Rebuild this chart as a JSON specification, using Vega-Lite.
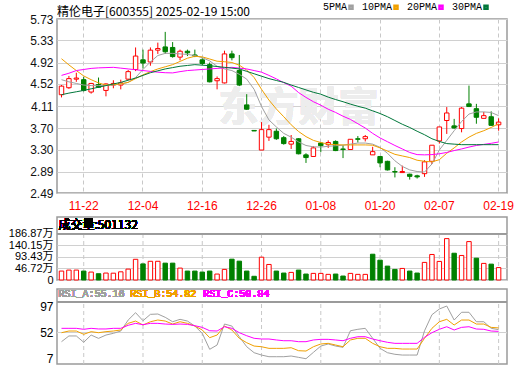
{
  "$schema": "https://vega.github.io/schema/vega-lite/v6.json",
  "background": "white",
  "padding": {"left": 0, "top": 2, "right": 0, "bottom": 0},
  "spacing": 2,
  "config": {
    "view": {"stroke": "#9a9a9a", "strokeWidth": 1.5},
    "font": "Liberation Sans",
    "axis": {"domain": false, "ticks": false, "tickSize": 0, "titlePadding": 0},
    "axisY": {"minExtent": 56, "maxExtent": 56, "labelPadding": 4, "labelFont": "Liberation Sans, Noto Sans CJK SC", "labelFontSize": 12, "labelColor": "#111111"}
  },
  "datasets": {
    "k": [
      {"d":"2024-11-19","o":4.32,"h":4.50,"l":4.27,"c":4.48,"v":36,"vu":1,"ma5":4.60,"ma10":4.99,"ma20":4.68,"ma30":4.32,"ra":36,"rb":51.7,"rc":59.3},
      {"d":"2024-11-20","o":4.45,"h":4.67,"l":4.43,"c":4.62,"v":40,"vu":1,"ma5":4.56,"ma10":4.875,"ma20":4.72,"ma30":4.35,"ra":46,"rb":54.6,"rc":59.3},
      {"d":"2024-11-21","o":4.61,"h":4.73,"l":4.56,"c":4.63,"v":40,"vu":1,"ma5":4.53,"ma10":4.77,"ma20":4.77,"ma30":4.375,"ra":46,"rb":54.6,"rc":59.3},
      {"d":"2024-11-22","o":4.60,"h":4.65,"l":4.38,"c":4.40,"v":36,"vu":0,"ma5":4.50,"ma10":4.67,"ma20":4.79,"ma30":4.40,"ra":35,"rb":48.9,"rc":57.6},
      {"d":"2024-11-25","o":4.37,"h":4.54,"l":4.34,"c":4.53,"v":32,"vu":1,"ma5":4.49,"ma10":4.60,"ma20":4.81,"ma30":4.43,"ra":47.6,"rb":53.5,"rc":59.3},
      {"d":"2024-11-26","o":4.51,"h":4.64,"l":4.45,"c":4.46,"v":25.4,"vu":0,"ma5":4.49,"ma10":4.54,"ma20":4.82,"ma30":4.46,"ra":41.8,"rb":51.7,"rc":58.2},
      {"d":"2024-11-27","o":4.40,"h":4.53,"l":4.29,"c":4.52,"v":28,"vu":1,"ma5":4.495,"ma10":4.50,"ma20":4.825,"ma30":4.49,"ra":47.6,"rb":53.5,"rc":58.2},
      {"d":"2024-11-28","o":4.50,"h":4.59,"l":4.44,"c":4.53,"v":27.5,"vu":1,"ma5":4.50,"ma10":4.51,"ma20":4.83,"ma30":4.52,"ra":50.6,"rb":54.6,"rc":59.3},
      {"d":"2024-11-29","o":4.50,"h":4.60,"l":4.42,"c":4.54,"v":33,"vu":1,"ma5":4.52,"ma10":4.52,"ma20":4.815,"ma30":4.55,"ra":54.6,"rb":56.4,"rc":59.3},
      {"d":"2024-12-02","o":4.61,"h":4.78,"l":4.59,"c":4.75,"v":44,"vu":1,"ma5":4.55,"ma10":4.55,"ma20":4.80,"ma30":4.59,"ra":73.8,"rb":68,"rc":64.6},
      {"d":"2024-12-03","o":4.79,"h":5.20,"l":4.76,"c":5.04,"v":83.5,"vu":1,"ma5":4.64,"ma10":4.62,"ma20":4.785,"ma30":4.63,"ra":86.6,"rb":72,"rc":68},
      {"d":"2024-12-04","o":4.97,"h":5.16,"l":4.81,"c":4.91,"v":65,"vu":0,"ma5":4.79,"ma10":4.69,"ma20":4.77,"ma30":4.68,"ra":72.6,"rb":65.1,"rc":65.6},
      {"d":"2024-12-05","o":4.93,"h":5.20,"l":4.86,"c":5.15,"v":75.5,"vu":1,"ma5":4.93,"ma10":4.75,"ma20":4.755,"ma30":4.73,"ra":83.7,"rb":70.8,"rc":68},
      {"d":"2024-12-06","o":5.15,"h":5.29,"l":5.08,"c":5.18,"v":75.5,"vu":1,"ma5":5.05,"ma10":4.80,"ma20":4.74,"ma30":4.765,"ra":84.3,"rb":73.8,"rc":68},
      {"d":"2024-12-09","o":5.21,"h":5.49,"l":5.08,"c":5.12,"v":68,"vu":0,"ma5":5.09,"ma10":4.84,"ma20":4.73,"ma30":4.80,"ra":78.5,"rb":72,"rc":66.8},
      {"d":"2024-12-10","o":5.20,"h":5.30,"l":5.01,"c":5.03,"v":68,"vu":0,"ma5":5.09,"ma10":4.88,"ma20":4.726,"ma30":4.825,"ra":70.8,"rb":66.8,"rc":66.2},
      {"d":"2024-12-11","o":5.02,"h":5.16,"l":4.96,"c":5.13,"v":48,"vu":1,"ma5":5.08,"ma10":4.94,"ma20":4.75,"ma30":4.85,"ra":75,"rb":70.8,"rc":66.8},
      {"d":"2024-12-12","o":5.13,"h":5.16,"l":5.04,"c":5.10,"v":36,"vu":0,"ma5":5.07,"ma10":5.00,"ma20":4.77,"ma30":4.865,"ra":72,"rb":68,"rc":66.2},
      {"d":"2024-12-13","o":5.06,"h":5.16,"l":5.02,"c":5.04,"v":36,"vu":0,"ma5":5.05,"ma10":5.035,"ma20":4.78,"ma30":4.88,"ra":63.3,"rb":63.3,"rc":63.9},
      {"d":"2024-12-16","o":4.97,"h":5.00,"l":4.87,"c":4.90,"v":32,"vu":0,"ma5":5.01,"ma10":5.025,"ma20":4.79,"ma30":4.87,"ra":50.6,"rb":56.4,"rc":61},
      {"d":"2024-12-17","o":4.88,"h":4.92,"l":4.55,"c":4.56,"v":36,"vu":0,"ma5":4.95,"ma10":4.985,"ma20":4.80,"ma30":4.86,"ra":22.7,"rb":43,"rc":55.1},
      {"d":"2024-12-18","o":4.58,"h":4.66,"l":4.42,"c":4.62,"v":24,"vu":1,"ma5":4.85,"ma10":4.944,"ma20":4.81,"ma30":4.845,"ra":30.2,"rb":47.6,"rc":54.6},
      {"d":"2024-12-19","o":4.54,"h":5.14,"l":4.53,"c":5.08,"v":42.8,"vu":1,"ma5":4.80,"ma10":4.935,"ma20":4.82,"ma30":4.83,"ra":66.8,"rb":63.3,"rc":62.1},
      {"d":"2024-12-20","o":5.08,"h":5.14,"l":4.96,"c":5.01,"v":84,"vu":0,"ma5":4.77,"ma10":4.92,"ma20":4.83,"ma30":4.815,"ra":63.3,"rb":56.4,"rc":59.3},
      {"d":"2024-12-23","o":4.77,"h":5.06,"l":4.48,"c":4.50,"v":76,"vu":0,"ma5":4.70,"ma10":4.87,"ma20":4.815,"ma30":4.80,"ra":44.7,"rb":41.9,"rc":51.7},
      {"d":"2024-12-24","o":4.13,"h":4.33,"l":4.04,"c":4.05,"v":36,"vu":0,"ma5":4.61,"ma10":4.78,"ma20":4.80,"ma30":4.755,"ra":27.2,"rb":34.2,"rc":46.4},
      {"d":"2024-12-25","o":3.655,"h":3.66,"l":3.645,"c":3.645,"v":15,"vu":0,"ma5":4.42,"ma10":4.64,"ma20":4.77,"ma30":4.71,"ra":16.8,"rb":28.4,"rc":41.9},
      {"d":"2024-12-26","o":3.29,"h":3.81,"l":3.29,"c":3.67,"v":92,"vu":1,"ma5":4.10,"ma10":4.42,"ma20":4.74,"ma30":4.665,"ra":12.7,"rb":27.2,"rc":40.7},
      {"d":"2024-12-27","o":3.53,"h":3.76,"l":3.46,"c":3.67,"v":62.7,"vu":1,"ma5":3.85,"ma10":4.22,"ma20":4.68,"ma30":4.62,"ra":9.8,"rb":24.4,"rc":40.7},
      {"d":"2024-12-30","o":3.64,"h":3.69,"l":3.48,"c":3.50,"v":36,"vu":0,"ma5":3.72,"ma10":4.055,"ma20":4.615,"ma30":4.585,"ra":9.8,"rb":24.4,"rc":39},
      {"d":"2024-12-31","o":3.52,"h":3.55,"l":3.39,"c":3.41,"v":28,"vu":0,"ma5":3.60,"ma10":3.91,"ma20":4.545,"ma30":4.55,"ra":9.8,"rb":24.4,"rc":37.7},
      {"d":"2025-01-02","o":3.40,"h":3.57,"l":3.31,"c":3.45,"v":30.7,"vu":1,"ma5":3.53,"ma10":3.76,"ma20":4.48,"ma30":4.50,"ra":11,"rb":25.5,"rc":37.7},
      {"d":"2025-01-03","o":3.50,"h":3.51,"l":3.21,"c":3.22,"v":40,"vu":0,"ma5":3.44,"ma10":3.635,"ma20":4.36,"ma30":4.455,"ra":8.7,"rb":20.3,"rc":36},
      {"d":"2025-01-06","o":3.20,"h":3.23,"l":3.05,"c":3.15,"v":24,"vu":0,"ma5":3.375,"ma10":3.54,"ma20":4.27,"ma30":4.41,"ra":6.3,"rb":19.7,"rc":36},
      {"d":"2025-01-07","o":3.17,"h":3.36,"l":3.17,"c":3.33,"v":26.7,"vu":1,"ma5":3.35,"ma10":3.47,"ma20":4.19,"ma30":4.365,"ra":17.4,"rb":27.2,"rc":39},
      {"d":"2025-01-08","o":3.42,"h":3.44,"l":3.25,"c":3.37,"v":26.7,"vu":1,"ma5":3.345,"ma10":3.43,"ma20":4.125,"ma30":4.33,"ra":28.4,"rb":32,"rc":40.1},
      {"d":"2025-01-09","o":3.39,"h":3.47,"l":3.33,"c":3.43,"v":22.7,"vu":1,"ma5":3.36,"ma10":3.40,"ma20":4.05,"ma30":4.275,"ra":32,"rb":33.1,"rc":40.1},
      {"d":"2025-01-10","o":3.45,"h":3.47,"l":3.27,"c":3.28,"v":24,"vu":0,"ma5":3.37,"ma10":3.39,"ma20":3.99,"ma30":4.23,"ra":28.4,"rb":30.2,"rc":39},
      {"d":"2025-01-13","o":3.31,"h":3.38,"l":3.14,"c":3.30,"v":16,"vu":0,"ma5":3.38,"ma10":3.385,"ma20":3.92,"ma30":4.19,"ra":26.2,"rb":27.2,"rc":37.7},
      {"d":"2025-01-14","o":3.30,"h":3.49,"l":3.30,"c":3.49,"v":26.7,"vu":1,"ma5":3.40,"ma10":3.385,"ma20":3.86,"ma30":4.145,"ra":55.1,"rb":39,"rc":41.9},
      {"d":"2025-01-15","o":3.50,"h":3.55,"l":3.43,"c":3.49,"v":22.7,"vu":1,"ma5":3.42,"ma10":3.385,"ma20":3.78,"ma30":4.105,"ra":57.6,"rb":41.9,"rc":44.7},
      {"d":"2025-01-16","o":3.50,"h":3.57,"l":3.45,"c":3.54,"v":22.7,"vu":1,"ma5":3.42,"ma10":3.385,"ma20":3.70,"ma30":4.07,"ra":59.3,"rb":41.9,"rc":44.7},
      {"d":"2025-01-17","o":3.20,"h":3.35,"l":3.20,"c":3.26,"v":104,"vu":0,"ma5":3.40,"ma10":3.38,"ma20":3.60,"ma30":4.02,"ra":41.9,"rb":33.1,"rc":40.7},
      {"d":"2025-01-20","o":3.17,"h":3.17,"l":2.97,"c":3.05,"v":80,"vu":0,"ma5":3.34,"ma10":3.33,"ma20":3.515,"ma30":3.97,"ra":24.4,"rb":27.2,"rc":37.7},
      {"d":"2025-01-21","o":3.08,"h":3.09,"l":2.91,"c":2.92,"v":56,"vu":0,"ma5":3.23,"ma10":3.27,"ma20":3.445,"ma30":3.91,"ra":16.8,"rb":24.4,"rc":34.9},
      {"d":"2025-01-22","o":2.89,"h":2.97,"l":2.78,"c":2.88,"v":42.7,"vu":0,"ma5":3.09,"ma10":3.21,"ma20":3.375,"ma30":3.84,"ra":14,"rb":24.4,"rc":33.1},
      {"d":"2025-01-23","o":2.87,"h":3.00,"l":2.87,"c":2.89,"v":46.7,"vu":1,"ma5":2.985,"ma10":3.18,"ma20":3.31,"ma30":3.77,"ra":12.7,"rb":23.2,"rc":33.1},
      {"d":"2025-01-24","o":2.84,"h":2.85,"l":2.74,"c":2.80,"v":36,"vu":0,"ma5":2.92,"ma10":3.15,"ma20":3.245,"ma30":3.71,"ra":12.7,"rb":23.2,"rc":33.1},
      {"d":"2025-01-27","o":2.81,"h":2.83,"l":2.76,"c":2.79,"v":28,"vu":0,"ma5":2.89,"ma10":3.10,"ma20":3.205,"ma30":3.64,"ra":12.7,"rb":23.2,"rc":33.1},
      {"d":"2025-02-05","o":2.85,"h":3.10,"l":2.79,"c":3.07,"v":71,"vu":1,"ma5":2.88,"ma10":3.08,"ma20":3.20,"ma30":3.575,"ra":55,"rb":41.9,"rc":43.6},
      {"d":"2025-02-06","o":3.08,"h":3.38,"l":3.03,"c":3.38,"v":103,"vu":1,"ma5":3.03,"ma10":3.07,"ma20":3.205,"ma30":3.50,"ra":83,"rb":59.3,"rc":51.7},
      {"d":"2025-02-07","o":3.46,"h":3.72,"l":3.41,"c":3.72,"v":75,"vu":1,"ma5":3.29,"ma10":3.11,"ma20":3.22,"ma30":3.45,"ra":93,"rb":70.8,"rc":57.6},
      {"d":"2025-02-10","o":3.84,"h":4.09,"l":3.59,"c":3.98,"v":167,"vu":1,"ma5":3.47,"ma10":3.23,"ma20":3.245,"ma30":3.41,"ra":98.2,"rb":75,"rc":62.1},
      {"d":"2025-02-11","o":3.74,"h":3.87,"l":3.69,"c":3.70,"v":108,"vu":0,"ma5":3.65,"ma10":3.33,"ma20":3.28,"ma30":3.40,"ra":73.8,"rb":65.1,"rc":56.4},
      {"d":"2025-02-12","o":3.69,"h":4.09,"l":3.62,"c":4.07,"v":99,"vu":1,"ma5":3.82,"ma10":3.44,"ma20":3.31,"ma30":3.39,"ra":87.3,"rb":73.8,"rc":61},
      {"d":"2025-02-13","o":4.15,"h":4.49,"l":4.09,"c":4.10,"v":155,"vu":1,"ma5":3.96,"ma10":3.53,"ma20":3.345,"ma30":3.39,"ra":87.3,"rb":73.8,"rc":62.1},
      {"d":"2025-02-14","o":4.06,"h":4.15,"l":3.78,"c":3.90,"v":88,"vu":0,"ma5":4.00,"ma10":3.60,"ma20":3.375,"ma30":3.39,"ra":70.8,"rb":66.8,"rc":58.1},
      {"d":"2025-02-17","o":3.88,"h":4.00,"l":3.88,"c":3.93,"v":67,"vu":1,"ma5":4.00,"ma10":3.65,"ma20":3.395,"ma30":3.39,"ra":70.8,"rb":66.8,"rc":57.6},
      {"d":"2025-02-18","o":3.91,"h":4.01,"l":3.74,"c":3.75,"v":64,"vu":0,"ma5":3.99,"ma10":3.71,"ma20":3.415,"ma30":3.39,"ra":59.3,"rb":61,"rc":54.6},
      {"d":"2025-02-19","o":3.76,"h":3.88,"l":3.65,"c":3.81,"v":50.11,"vu":1,"ma5":3.93,"ma10":3.78,"ma20":3.44,"ma30":3.39,"ra":57,"rb":60,"rc":54}
    ]
  },
  "vconcat": [
    {
      "width": 450,
      "height": 174,
      "data": {"name": "k"},
      "title": {"text": "精伦电子[600355] 2025-02-19 15:00", "anchor": "start", "frame": "group", "font": "Noto Sans CJK SC", "fontSize": 12, "fontWeight": "normal", "color": "#000000", "offset": -6},
      "encoding": {
        "x": {"field": "d", "type": "ordinal", "title": null,
          "scale": {"type": "band", "paddingInner": 0.4, "paddingOuter": 0.57, "align": 0.27},
          "axis": {"title": null, "values": ["2024-11-22","2024-12-04","2024-12-16","2024-12-26","2025-01-08","2025-01-20","2025-02-07","2025-02-19"],
            "labelExpr": "slice(datum.label, 5)", "labelColor": "#ff0000", "labelFont": "Liberation Sans", "labelFontSize": 12, "labelAngle": 0, "labelPadding": 7, "labelOverlap": false,
            "grid": true, "gridDash": [4, 3], "gridColor": "#c8c8c8", "bandPosition": 0.5, "minExtent": 20, "maxExtent": 20}},
        "y": {"field": "l", "type": "quantitative", "title": null,
          "scale": {"domain": [2.49, 5.73], "zero": false, "nice": false},
          "axis": {"title": null, "values": [2.49, 2.89, 3.3, 3.7, 4.11, 4.52, 4.92, 5.33, 5.73], "format": ".2f", "labelOverlap": false, "grid": true, "gridColor": "#d0d0d0"}}
      },
      "layer": [
        {
          "mark": {"type": "text", "text": "东方财富", "font": "Noto Sans CJK SC", "fontSize": 40, "fontWeight": "bold", "color": "#ededed"},
          "encoding": {
            "x": {"datum": "2025-01-03", "type": "ordinal"},
            "y": {"datum": 4.05, "type": "quantitative"}
          }
        },
        {
          "mark": {"type": "rule", "strokeWidth": 1},
          "encoding": {
            "y2": {"field": "h"},
            "color": {"condition": {"test": "datum.c >= datum.o", "value": "#ff0000"}, "value": "#008000"}
          }
        },
        {
          "mark": {"type": "bar", "strokeWidth": 1},
          "encoding": {
            "y": {"field": "o", "type": "quantitative", "title": null},
            "y2": {"field": "c"},
            "fill": {"condition": {"test": "datum.c >= datum.o", "value": "#ffffff"}, "value": "#008000"},
            "stroke": {"condition": {"test": "datum.c >= datum.o", "value": "#ff0000"}, "value": "#008000"}
          }
        },
        {
          "transform": [{"fold": ["ma5", "ma10", "ma20", "ma30"], "as": ["k", "val"]}],
          "mark": {"type": "line", "strokeWidth": 1},
          "encoding": {
            "y": {"field": "val", "type": "quantitative", "title": null},
            "color": {"field": "k", "type": "nominal",
              "scale": {"domain": ["ma5", "ma10", "ma20", "ma30"], "range": ["#a0a0a0", "#f0a000", "#ff00ff", "#00773a"]},
              "legend": {"orient": "none", "legendX": 289, "legendY": -17, "direction": "horizontal", "title": null,
                "symbolType": "square", "symbolSize": 9, "symbolStrokeWidth": 2.5,
                "labelFont": "Liberation Mono", "labelFontSize": 10, "labelColor": "#000000",
                "labelAlign": "right", "labelOffset": -9, "columnPadding": 3,
                "labelExpr": "datum.label == 'ma5' ? '5PMA' : datum.label == 'ma10' ? '10PMA' : datum.label == 'ma20' ? '20PMA' : '30PMA'"}}
          }
        }
      ]
    },
    {
      "width": 450,
      "height": 63,
      "data": {"name": "k"},
      "encoding": {
        "x": {"field": "d", "type": "ordinal", "title": null,
          "scale": {"type": "band", "paddingInner": 0.4, "paddingOuter": 0.57, "align": 0.27}, "axis": null},
        "y": {"field": "v", "type": "quantitative", "title": null,
          "scale": {"domain": [0, 254.2], "zero": true, "nice": false},
          "axis": {"title": null, "values": [0, 46.72, 93.43, 140.15, 186.87], "labelOverlap": false, "labelFontSize": 11, "labelExpr": "datum.value == 0 ? '0' : format(datum.value, '.2f') + '万'", "grid": true, "gridColor": "#d0d0d0", "labelColor": "#000000"}}
      },
      "layer": [
        {
          "transform": [{"filter": {"field": "d", "oneOf": ["2024-11-22","2024-12-04","2024-12-16","2024-12-26","2025-01-08","2025-01-20","2025-02-07","2025-02-19"]}}],
          "mark": {"type": "rule", "strokeDash": [4, 3], "color": "#c8c8c8"},
          "encoding": {
            "y": {"datum": 0, "type": "quantitative"},
            "y2": {"datum": 186.87}
          }
        },
        {
          "mark": {"type": "rule", "color": "#9a9a9a", "strokeWidth": 1},
          "encoding": {"x": {"value": 0}, "x2": {"value": 450}, "y": {"datum": 186.87, "type": "quantitative"}}
        },
        {
          "mark": {"type": "bar", "strokeWidth": 1},
          "encoding": {
            "fill": {"condition": {"test": "datum.vu == 1", "value": "#ffffff"}, "value": "#008000"},
            "stroke": {"condition": {"test": "datum.vu == 1", "value": "#ff0000"}, "value": "#008000"}
          }
        },
        {
          "mark": {"type": "text", "text": "成交量:501132", "align": "left", "baseline": "middle", "font": "Noto Sans CJK SC", "fontSize": 12, "color": "#000000", "dx": -3},
          "encoding": {
            "x": {"datum": "2024-11-19", "type": "ordinal"},
            "y": {"datum": 220.7, "type": "quantitative"}
          }
        }
      ]
    },
    {
      "width": 450,
      "height": 75,
      "data": {"name": "k"},
      "encoding": {
        "x": {"field": "d", "type": "ordinal", "title": null,
          "scale": {"type": "band", "paddingInner": 0.4, "paddingOuter": 0.57, "align": 0.27}, "axis": null},
        "y": {"field": "ra", "type": "quantitative", "title": null,
          "scale": {"domain": [-2.9, 127.9], "zero": false, "nice": false},
          "axis": {"title": null, "values": [7, 52, 97], "labelOverlap": false, "grid": false, "labelColor": "#000000"}}
      },
      "layer": [
        {
          "transform": [{"filter": {"field": "d", "oneOf": ["2024-11-22","2024-12-04","2024-12-16","2024-12-26","2025-01-08","2025-01-20","2025-02-07","2025-02-19"]}}],
          "mark": {"type": "rule", "strokeDash": [4, 3], "color": "#c8c8c8"},
          "encoding": {
            "y": {"datum": -2.9, "type": "quantitative"},
            "y2": {"datum": 105.7}
          }
        },
        {
          "mark": {"type": "rule", "color": "#d0d0d0", "strokeWidth": 1},
          "encoding": {"x": {"value": 0}, "x2": {"value": 450}, "y": {"datum": 52, "type": "quantitative"}}
        },
        {
          "mark": {"type": "rule", "color": "#9a9a9a", "strokeWidth": 1},
          "encoding": {"x": {"value": 0}, "x2": {"value": 450}, "y": {"datum": 105.7, "type": "quantitative"}}
        },
        {
          "mark": {"type": "line", "strokeWidth": 1, "color": "#a0a0a0"},
          "encoding": {}
        },
        {
          "mark": {"type": "line", "strokeWidth": 1, "color": "#f0a000"},
          "encoding": {"y": {"field": "rb", "type": "quantitative", "title": null}}
        },
        {
          "mark": {"type": "line", "strokeWidth": 1, "color": "#ff00ff"},
          "encoding": {"y": {"field": "rc", "type": "quantitative", "title": null}}
        },
        {
          "mark": {"type": "text", "text": "RSI_A:55.16", "align": "left", "baseline": "middle", "font": "Liberation Mono", "fontSize": 10, "color": "#a0a0a0", "dx": -3},
          "encoding": {"x": {"datum": "2024-11-19", "type": "ordinal"}, "y": {"datum": 119.2, "type": "quantitative"}}
        },
        {
          "mark": {"type": "text", "text": "RSI_B:54.82", "align": "left", "baseline": "middle", "font": "Liberation Mono", "fontSize": 10, "color": "#f0a000", "dx": 2},
          "encoding": {"x": {"datum": "2024-12-02", "type": "ordinal"}, "y": {"datum": 119.2, "type": "quantitative"}}
        },
        {
          "mark": {"type": "text", "text": "RSI_C:50.84", "align": "left", "baseline": "middle", "font": "Liberation Mono", "fontSize": 10, "color": "#ff00ff", "dx": 1},
          "encoding": {"x": {"datum": "2024-12-16", "type": "ordinal"}, "y": {"datum": 119.2, "type": "quantitative"}}
        }
      ]
    }
  ]
}
